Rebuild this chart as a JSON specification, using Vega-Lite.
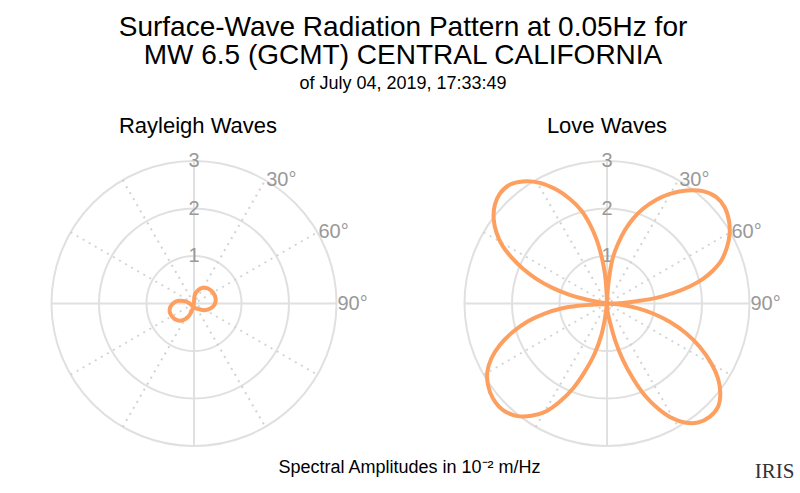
{
  "$schema": "https://vega.github.io/schema/vega-lite/v6.json",
  "background": "white",
  "padding": {"left": 47.5, "top": 14, "right": 5, "bottom": 5},
  "title": {
    "text": ["Surface-Wave Radiation Pattern at 0.05Hz for", "MW 6.5 (GCMT) CENTRAL CALIFORNIA"],
    "subtitle": "of July 04, 2019, 17:33:49",
    "anchor": "start",
    "align": "center",
    "frame": "group",
    "dx": 351.5,
    "fontSize": 28,
    "lineHeight": 28,
    "fontWeight": "normal",
    "font": "Liberation Sans",
    "color": "#000",
    "subtitleFontSize": 18,
    "subtitleFont": "Liberation Sans",
    "subtitleColor": "#000",
    "subtitlePadding": 5,
    "offset": 22
  },
  "datasets": {
    "rings": [{"r": 1, "x": 0, "y": 0}, {"r": 2, "x": 0, "y": 0}, {"r": 3, "x": 0, "y": 0}],
    "cross": [
      {"x": 0, "y": -3, "x2": 0, "y2": 3},
      {"x": -3, "y": 0, "x2": 3, "y2": 0}
    ],
    "spokes": [
      {"x": -1.5, "y": -2.598, "x2": 1.5, "y2": 2.598},
      {"x": -2.598, "y": -1.5, "x2": 2.598, "y2": 1.5},
      {"x": -2.598, "y": 1.5, "x2": 2.598, "y2": -1.5},
      {"x": -1.5, "y": 2.598, "x2": 1.5, "y2": -2.598}
    ],
    "rlabels": [
      {"x": 0, "y": 1, "t": "1"},
      {"x": 0, "y": 2, "t": "2"},
      {"x": 0, "y": 3, "t": "3"}
    ],
    "alabels": [
      {"x": 1.5, "y": 2.598, "t": "30°"},
      {"x": 2.598, "y": 1.5, "t": "60°"},
      {"x": 3, "y": 0, "t": "90°"}
    ],
    "rayleigh": [
      {"i": 1, "x": 0.014, "y": 0.175},
      {"i": 2, "x": 0.084, "y": 0.281},
      {"i": 3, "x": 0.189, "y": 0.33},
      {"i": 4, "x": 0.295, "y": 0.316},
      {"i": 5, "x": 0.4, "y": 0.232},
      {"i": 6, "x": 0.456, "y": 0.105},
      {"i": 7, "x": 0.435, "y": -0.021},
      {"i": 8, "x": 0.344, "y": -0.105},
      {"i": 9, "x": 0.225, "y": -0.14},
      {"i": 10, "x": 0.105, "y": -0.119},
      {"i": 11, "x": 0.014, "y": -0.091},
      {"i": 12, "x": -0.091, "y": 0},
      {"i": 13, "x": -0.196, "y": 0.049},
      {"i": 14, "x": -0.316, "y": 0.056},
      {"i": 15, "x": -0.428, "y": 0.014},
      {"i": 16, "x": -0.498, "y": -0.07},
      {"i": 17, "x": -0.512, "y": -0.175},
      {"i": 18, "x": -0.456, "y": -0.281},
      {"i": 19, "x": -0.358, "y": -0.351},
      {"i": 20, "x": -0.232, "y": -0.351},
      {"i": 21, "x": -0.126, "y": -0.281},
      {"i": 22, "x": -0.056, "y": -0.175},
      {"i": 23, "x": -0.007, "y": -0.035}
    ],
    "love": [
      {"i": 1, "x": 0, "y": 0},
      {"i": 2, "x": 0.015, "y": 0.27},
      {"i": 3, "x": 0.056, "y": 0.625},
      {"i": 4, "x": 0.126, "y": 0.975},
      {"i": 5, "x": 0.232, "y": 1.257},
      {"i": 6, "x": 0.372, "y": 1.537},
      {"i": 7, "x": 0.547, "y": 1.782},
      {"i": 8, "x": 0.758, "y": 1.993},
      {"i": 9, "x": 1.039, "y": 2.183},
      {"i": 10, "x": 1.32, "y": 2.309},
      {"i": 11, "x": 1.67, "y": 2.379},
      {"i": 12, "x": 2.021, "y": 2.365},
      {"i": 13, "x": 2.302, "y": 2.239},
      {"i": 14, "x": 2.477, "y": 2.028},
      {"i": 15, "x": 2.568, "y": 1.747},
      {"i": 16, "x": 2.582, "y": 1.467},
      {"i": 17, "x": 2.526, "y": 1.186},
      {"i": 18, "x": 2.407, "y": 0.905},
      {"i": 19, "x": 2.232, "y": 0.695},
      {"i": 20, "x": 2.021, "y": 0.519},
      {"i": 21, "x": 1.74, "y": 0.358},
      {"i": 22, "x": 1.389, "y": 0.218},
      {"i": 23, "x": 1.039, "y": 0.119},
      {"i": 24, "x": 0.617, "y": 0.049},
      {"i": 25, "x": 0.267, "y": 0.007},
      {"i": 26, "x": 0, "y": 0},
      {"i": 27, "x": 0.267, "y": -0.021},
      {"i": 28, "x": 0.617, "y": -0.091},
      {"i": 29, "x": 0.968, "y": -0.211},
      {"i": 30, "x": 1.32, "y": -0.386},
      {"i": 31, "x": 1.67, "y": -0.632},
      {"i": 32, "x": 1.951, "y": -0.912},
      {"i": 33, "x": 2.197, "y": -1.263},
      {"i": 34, "x": 2.337, "y": -1.579},
      {"i": 35, "x": 2.386, "y": -1.895},
      {"i": 36, "x": 2.337, "y": -2.175},
      {"i": 37, "x": 2.161, "y": -2.386},
      {"i": 38, "x": 1.916, "y": -2.505},
      {"i": 39, "x": 1.635, "y": -2.505},
      {"i": 40, "x": 1.354, "y": -2.407},
      {"i": 41, "x": 1.074, "y": -2.211},
      {"i": 42, "x": 0.793, "y": -1.93},
      {"i": 43, "x": 0.547, "y": -1.579},
      {"i": 44, "x": 0.337, "y": -1.193},
      {"i": 45, "x": 0.182, "y": -0.807},
      {"i": 46, "x": 0.07, "y": -0.421},
      {"i": 47, "x": 0.014, "y": -0.175},
      {"i": 48, "x": 0, "y": 0},
      {"i": 49, "x": -0.014, "y": -0.105},
      {"i": 50, "x": -0.049, "y": -0.351},
      {"i": 51, "x": -0.119, "y": -0.667},
      {"i": 52, "x": -0.259, "y": -1.053},
      {"i": 53, "x": -0.47, "y": -1.439},
      {"i": 54, "x": -0.716, "y": -1.789},
      {"i": 55, "x": -0.996, "y": -2.07},
      {"i": 56, "x": -1.277, "y": -2.267},
      {"i": 57, "x": -1.593, "y": -2.365},
      {"i": 58, "x": -1.909, "y": -2.365},
      {"i": 59, "x": -2.189, "y": -2.245},
      {"i": 60, "x": -2.4, "y": -2},
      {"i": 61, "x": -2.505, "y": -1.719},
      {"i": 62, "x": -2.519, "y": -1.439},
      {"i": 63, "x": -2.435, "y": -1.158},
      {"i": 64, "x": -2.259, "y": -0.877},
      {"i": 65, "x": -1.979, "y": -0.596},
      {"i": 66, "x": -1.663, "y": -0.372},
      {"i": 67, "x": -1.312, "y": -0.211},
      {"i": 68, "x": -0.961, "y": -0.105},
      {"i": 69, "x": -0.61, "y": -0.049},
      {"i": 70, "x": -0.259, "y": -0.021},
      {"i": 71, "x": 0, "y": 0},
      {"i": 72, "x": -0.154, "y": 0.028},
      {"i": 73, "x": -0.436, "y": 0.084},
      {"i": 74, "x": -0.786, "y": 0.183},
      {"i": 75, "x": -1.137, "y": 0.323},
      {"i": 76, "x": -1.488, "y": 0.519},
      {"i": 77, "x": -1.768, "y": 0.73},
      {"i": 78, "x": -2.014, "y": 0.975},
      {"i": 79, "x": -2.204, "y": 1.221},
      {"i": 80, "x": -2.33, "y": 1.502},
      {"i": 81, "x": -2.386, "y": 1.782},
      {"i": 82, "x": -2.365, "y": 2.063},
      {"i": 83, "x": -2.259, "y": 2.309},
      {"i": 84, "x": -2.049, "y": 2.498},
      {"i": 85, "x": -1.768, "y": 2.568},
      {"i": 86, "x": -1.418, "y": 2.54},
      {"i": 87, "x": -1.067, "y": 2.4},
      {"i": 88, "x": -0.786, "y": 2.204},
      {"i": 89, "x": -0.54, "y": 1.958},
      {"i": 90, "x": -0.365, "y": 1.677},
      {"i": 91, "x": -0.224, "y": 1.361},
      {"i": 92, "x": -0.119, "y": 1.011},
      {"i": 93, "x": -0.049, "y": 0.66},
      {"i": 94, "x": -0.014, "y": 0.309},
      {"i": 95, "x": 0, "y": 0}
    ]
  },
  "hconcat": [
    {
      "width": 285,
      "height": 285,
      "title": {"text": "Rayleigh Waves", "fontSize": 22, "fontWeight": "normal", "font": "Liberation Sans", "color": "#000", "baseline": "alphabetic", "offset": -4, "dx": 4},
      "encoding": {
        "x": {"field": "x", "type": "quantitative", "scale": {"domain": [-3, 3], "nice": false, "zero": false},
              "axis": {"title": "Spectral Amplitudes in 10⁻² m/Hz", "titleX": 357.5, "titleY": 26, "titleBaseline": "alphabetic", "titleAlign": "center"}},
        "y": {"field": "y", "type": "quantitative", "scale": {"domain": [-3, 3], "nice": false, "zero": false}, "axis": null}
      },
      "layer": [
        {
          "data": {"name": "rings"},
          "mark": {"type": "point", "shape": "circle", "filled": false, "color": "#e0e0e0", "strokeWidth": 2, "opacity": 1},
          "encoding": {
            "size": {"field": "r", "type": "quantitative", "scale": {"type": "pow", "exponent": 2, "domain": [0, 3], "range": [0, 81225]}, "legend": null}
          }
        },
        {
          "data": {"name": "cross"},
          "mark": {"type": "rule", "color": "#e0e0e0", "strokeWidth": 2},
          "encoding": {"x2": {"field": "x2"}, "y2": {"field": "y2"}}
        },
        {
          "data": {"name": "spokes"},
          "mark": {"type": "rule", "color": "#d2d2d2", "strokeWidth": 2, "strokeDash": [2, 5]},
          "encoding": {"x2": {"field": "x2"}, "y2": {"field": "y2"}}
        },
        {
          "data": {"name": "rlabels"},
          "mark": {"type": "text", "align": "center", "baseline": "middle", "fontSize": 20, "font": "Liberation Sans", "color": "#999999"},
          "encoding": {"text": {"field": "t"}}
        },
        {
          "data": {"name": "alabels"},
          "mark": {"type": "text", "align": "left", "baseline": "middle", "dx": 1, "fontSize": 20, "font": "Liberation Sans", "color": "#999999"},
          "encoding": {"text": {"field": "t"}}
        },
        {
          "data": {"name": "rayleigh"},
          "mark": {"type": "line", "interpolate": "cardinal-closed", "color": "#fd9f5f", "strokeWidth": 4},
          "encoding": {"order": {"field": "i", "type": "quantitative"}}
        }
      ]
    },
    {
      "width": 285,
      "height": 285,
      "title": {"text": "Love Waves", "fontSize": 22, "fontWeight": "normal", "font": "Liberation Sans", "color": "#000", "baseline": "alphabetic", "offset": -4},
      "encoding": {
        "x": {"field": "x", "type": "quantitative", "scale": {"domain": [-3, 3], "nice": false, "zero": false},
              "axis": {"title": "IRIS", "titleFont": "Liberation Serif", "titleFontSize": 21, "titleColor": "#333333", "titleX": 309.5, "titleY": 31.5, "titleBaseline": "alphabetic", "titleAlign": "center"}},
        "y": {"field": "y", "type": "quantitative", "scale": {"domain": [-3, 3], "nice": false, "zero": false}, "axis": null}
      },
      "layer": [
        {
          "data": {"name": "rings"},
          "mark": {"type": "point", "shape": "circle", "filled": false, "color": "#e0e0e0", "strokeWidth": 2, "opacity": 1},
          "encoding": {
            "size": {"field": "r", "type": "quantitative", "scale": {"type": "pow", "exponent": 2, "domain": [0, 3], "range": [0, 81225]}, "legend": null}
          }
        },
        {
          "data": {"name": "cross"},
          "mark": {"type": "rule", "color": "#e0e0e0", "strokeWidth": 2},
          "encoding": {"x2": {"field": "x2"}, "y2": {"field": "y2"}}
        },
        {
          "data": {"name": "spokes"},
          "mark": {"type": "rule", "color": "#d2d2d2", "strokeWidth": 2, "strokeDash": [2, 5]},
          "encoding": {"x2": {"field": "x2"}, "y2": {"field": "y2"}}
        },
        {
          "data": {"name": "rlabels"},
          "mark": {"type": "text", "align": "center", "baseline": "middle", "fontSize": 20, "font": "Liberation Sans", "color": "#999999"},
          "encoding": {"text": {"field": "t"}}
        },
        {
          "data": {"name": "alabels"},
          "mark": {"type": "text", "align": "left", "baseline": "middle", "dx": 1, "fontSize": 20, "font": "Liberation Sans", "color": "#999999"},
          "encoding": {"text": {"field": "t"}}
        },
        {
          "data": {"name": "love"},
          "mark": {"type": "line", "interpolate": "catmull-rom", "color": "#fd9f5f", "strokeWidth": 4},
          "encoding": {"order": {"field": "i", "type": "quantitative"}}
        }
      ]
    }
  ],
  "spacing": 128,
  "bounds": "flush",
  "config": {
    "view": {"stroke": null},
    "axis": {"domain": false, "ticks": false, "labels": false, "grid": false, "titleFontWeight": "normal", "titleFontSize": 18, "titleFont": "Liberation Sans", "titleColor": "#000", "titlePadding": 0}
  }
}
